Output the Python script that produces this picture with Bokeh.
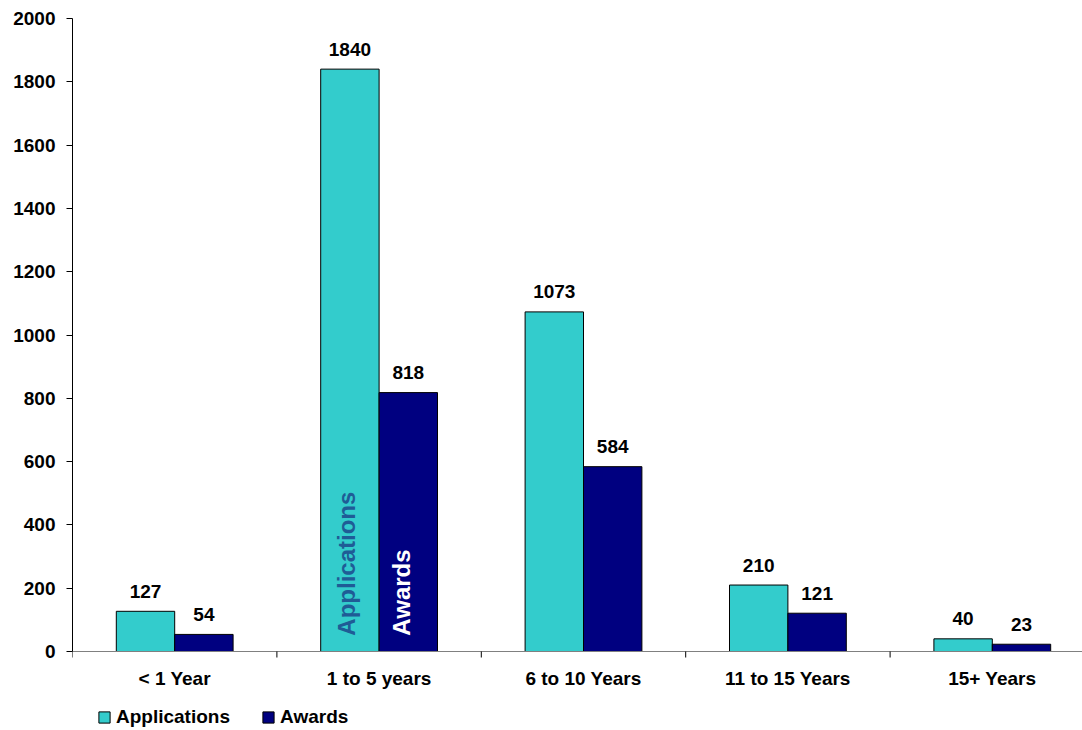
import math
from bokeh.plotting import figure
from bokeh.models import (ColumnDataSource, Range1d, FixedTicker, Legend, LegendItem)
from bokeh.core.properties import value
from bokeh.embed import file_html
from bokeh.resources import INLINE

categories = ["< 1 Year", "1 to 5 years", "6 to 10 Years", "11 to 15 Years", "15+ Years"]
applications = [127, 1840, 1073, 210, 40]
awards = [54, 818, 584, 121, 23]
y_ticks = [0, 200, 400, 600, 800, 1000, 1200, 1400, 1600, 1800, 2000]
y_max = 2000

CYAN = "#33CCCC"
NAVY = "#000080"
FONT = "Liberation Sans"

W, H = 1082, 730
LEFT, TOP = 72, 18
px_per_unit = (651 - 18) / y_max
y_min = y_max - (H - TOP) / px_per_unit
cat_px = 204.4
x_end = (W - LEFT) / cat_px

bar_w = 1 / 3.5
centers = [i + 0.5 for i in range(len(categories))]
x_app = [c - bar_w / 2 for c in centers]
x_awd = [c + bar_w / 2 for c in centers]
bounds_x = list(range(len(categories) + 1))

src = ColumnDataSource(dict(x_app=x_app, x_awd=x_awd, app=applications, awd=awards,
                            app_lbl=[str(v) for v in applications],
                            awd_lbl=[str(v) for v in awards]))

p = figure(width=W, height=H, output_backend="svg", toolbar_location=None,
           x_range=Range1d(0, x_end), y_range=Range1d(y_min, y_max),
           x_axis_location=None,
           min_border_left=LEFT, min_border_right=0, min_border_top=TOP,
           min_border_bottom=0)
p.outline_line_color = None
p.grid.visible = False
p.background_fill_color = "white"

r_app = p.vbar(x="x_app", top="app", width=bar_w, bottom=0, source=src,
               fill_color=CYAN, line_color="black", line_width=1)
r_awd = p.vbar(x="x_awd", top="awd", width=bar_w, bottom=0, source=src,
               fill_color=NAVY, line_color="black", line_width=1)

# category axis (line, boundary ticks, labels)
p.segment(x0=[0], y0=[0], x1=[x_end], y1=[0], line_color="#808080", line_width=1)
p.ray(x=bounds_x, y=[0] * len(bounds_x), length=6, length_units="screen",
      angle=-math.pi / 2, line_color="black", line_width=1)
p.text(x=centers, y=[0] * len(centers), text=categories, y_offset=27,
       text_align="center", text_baseline="middle", text_font=value(FONT),
       text_font_style="bold", text_font_size="19px", text_color="black")

lbl_kw = dict(text_font=value(FONT), text_font_style="bold", text_font_size="19px",
              text_align="center", text_baseline="middle", y_offset=-20,
              text_color="black")
p.text(x="x_app", y="app", text="app_lbl", source=src, **lbl_kw)
p.text(x="x_awd", y="awd", text="awd_lbl", source=src, **lbl_kw)

# series names written inside the tall bars
p.text(x=[x_app[1] - 0.015], y=[50], text=["Applications"], angle=math.pi / 2,
       text_align="left", text_baseline="middle", text_font=value(FONT),
       text_font_style="bold", text_font_size="24px", text_color="#1F5C96")
p.text(x=[x_awd[1] - 0.035], y=[50], text=["Awards"], angle=math.pi / 2,
       text_align="left", text_baseline="middle", text_font=value(FONT),
       text_font_style="bold", text_font_size="24px", text_color="white")

# y axis
ya = p.yaxis[0]
ya.bounds = (0, y_max)
ya.ticker = FixedTicker(ticks=y_ticks)
ya.axis_line_color = "black"
ya.major_tick_line_color = "black"
ya.major_tick_out = 6
ya.major_tick_in = 0
ya.minor_tick_line_color = None
ya.major_label_standoff = 11
ya.major_label_text_font = FONT
ya.major_label_text_font_style = "bold"
ya.major_label_text_font_size = "19px"
ya.major_label_text_color = "black"

legend = Legend(items=[LegendItem(label="Applications", renderers=[r_app]),
                       LegendItem(label="Awards", renderers=[r_awd])],
                location=(25, 2), orientation="horizontal")
legend.padding = 0
legend.margin = 0
legend.spacing = 31
legend.glyph_width = 14
legend.glyph_height = 14
legend.label_standoff = 5
legend.border_line_color = None
legend.background_fill_alpha = 0
legend.label_text_font = FONT
legend.label_text_font_style = "bold"
legend.label_text_font_size = "19px"
legend.label_text_color = "black"
p.add_layout(legend)

open("out.html", "w").write(file_html(p, INLINE))
